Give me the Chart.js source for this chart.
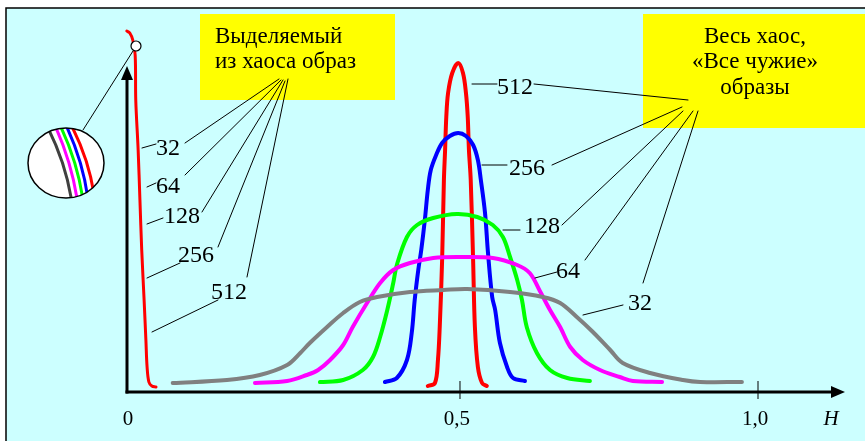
<!DOCTYPE html>
<html>
<head>
<meta charset="utf-8">
<script src="https://cdn.jsdelivr.net/npm/chart.js@4/dist/chart.umd.min.js"></script>
<style>
  html, body { margin: 0; padding: 0; background: #fff; }
  canvas { display: block; }
</style>
</head>
<body>
<canvas id="chaosChart" width="865" height="441"></canvas>
<script>
// Curve data: H along x, relative frequency along y (arbitrary units)
const selectedH = [-0.064, -0.059, -0.054, -0.049, -0.045, -0.044, -0.040, -0.037, -0.034, -0.030, -0.027, -0.025, -0.022, -0.017, -0.010];
const selectedV = [3.62, 3.61, 3.59, 3.52, 3.37, 2.92, 2.42, 1.92, 1.42, 0.92, 0.52, 0.25, 0.10, 0.06, 0.05];

const chaos32H = [0.018, 0.109, 0.164, 0.210, 0.232, 0.248, 0.277, 0.304, 0.332, 0.361, 0.416, 0.472, 0.512, 0.584, 0.639, 0.668, 0.696, 0.723, 0.752, 0.773, 0.819, 0.874, 0.903, 0.973];
const chaos32V = [0.09, 0.12, 0.17, 0.27, 0.39, 0.49, 0.65, 0.79, 0.90, 0.95, 1.00, 1.02, 1.03, 1.00, 0.95, 0.89, 0.75, 0.60, 0.42, 0.29, 0.19, 0.12, 0.10, 0.10];

const chaos64H = [0.156, 0.210, 0.243, 0.262, 0.282, 0.304, 0.320, 0.344, 0.366, 0.388, 0.416, 0.455, 0.500, 0.555, 0.596, 0.617, 0.634, 0.651, 0.668, 0.685, 0.706, 0.735, 0.768, 0.790, 0.839];
const chaos64V = [0.09, 0.11, 0.17, 0.22, 0.32, 0.47, 0.65, 0.89, 1.09, 1.22, 1.29, 1.34, 1.35, 1.34, 1.27, 1.19, 1.01, 0.82, 0.65, 0.45, 0.32, 0.22, 0.15, 0.11, 0.10];

const chaos128H = [0.265, 0.304, 0.337, 0.354, 0.366, 0.378, 0.388, 0.394, 0.411, 0.428, 0.455, 0.495, 0.529, 0.555, 0.572, 0.584, 0.596, 0.604, 0.612, 0.629, 0.651, 0.680, 0.718];
const chaos128V = [0.10, 0.12, 0.22, 0.35, 0.55, 0.82, 1.09, 1.27, 1.55, 1.67, 1.74, 1.78, 1.75, 1.67, 1.55, 1.35, 1.12, 0.92, 0.65, 0.39, 0.22, 0.14, 0.11];

const chaos256H = [0.374, 0.394, 0.411, 0.419, 0.424, 0.430, 0.435, 0.441, 0.446, 0.451, 0.460, 0.470, 0.483, 0.497, 0.510, 0.522, 0.530, 0.535, 0.542, 0.547, 0.554, 0.559, 0.567, 0.579, 0.589, 0.609];
const chaos256V = [0.10, 0.14, 0.32, 0.59, 0.92, 1.22, 1.42, 1.72, 2.02, 2.22, 2.37, 2.49, 2.56, 2.59, 2.56, 2.47, 2.32, 2.12, 1.79, 1.39, 0.95, 0.82, 0.49, 0.25, 0.14, 0.11];

const chaos512H = [0.446, 0.458, 0.463, 0.466, 0.470, 0.473, 0.475, 0.477, 0.480, 0.487, 0.497, 0.505, 0.510, 0.513, 0.515, 0.518, 0.522, 0.525, 0.530, 0.537, 0.545];
const chaos512V = [0.06, 0.09, 0.32, 0.65, 1.32, 2.12, 2.42, 2.75, 2.99, 3.19, 3.29, 3.19, 2.99, 2.75, 2.42, 2.12, 1.32, 0.65, 0.25, 0.09, 0.06];

// Axis: the drawing puts "0" at the axis corner, ticks at 0,5 and 1,0
const xAxisStart = -0.0587;
const xAxisEnd = 1.1426;
const yAxisMax = 3.62;
const tickValues = [0.5, 1.0];
const tickLabels = ['0,5', '1,0'];
const originLabel = '0';
const axisName = 'H';
const curveNames = ['32', '64', '128', '256', '512'];

const toPoints = (xs, ys) => xs.map((x, i) => ({ x: x, y: ys[i] }));

const SERIF = '"Liberation Serif", "DejaVu Serif", serif';

// Background, frame, yellow boxes and axes
const backdrop = {
  id: 'backdrop',
  beforeDraw(chart) {
    const ctx = chart.ctx;
    ctx.save();
    ctx.fillStyle = '#ffffff';
    ctx.fillRect(0, 0, chart.width, chart.height);
    ctx.fillStyle = '#ccffff';
    ctx.fillRect(6, 8, chart.width, chart.height);
    ctx.strokeStyle = '#000';
    ctx.lineWidth = 1.5;
    ctx.strokeRect(6, 8, chart.width + 10, chart.height + 10);

    ctx.fillStyle = '#ffff00';
    ctx.fillRect(200, 14, 195, 86);
    ctx.fillRect(643, 14, 230, 114);
    ctx.restore();
  },
  beforeDatasetsDraw(chart) {
    const ctx = chart.ctx;
    const xs = chart.scales.x, ys = chart.scales.y;
    const x0 = xs.getPixelForValue(xAxisStart);
    const y0 = ys.getPixelForValue(0);
    ctx.save();
    ctx.strokeStyle = '#000';
    ctx.fillStyle = '#000';
    ctx.lineWidth = 3;
    // y axis with arrow
    ctx.beginPath();
    ctx.moveTo(x0, y0 + 1.5);
    ctx.lineTo(x0, 78);
    ctx.stroke();
    ctx.beginPath();
    ctx.moveTo(x0, 66);
    ctx.lineTo(x0 - 6, 80);
    ctx.lineTo(x0 + 6, 80);
    ctx.closePath();
    ctx.fill();
    // x axis with arrow
    const xEnd = xs.getPixelForValue(xAxisEnd);
    ctx.beginPath();
    ctx.moveTo(x0 - 1.5, y0);
    ctx.lineTo(xEnd - 10, y0);
    ctx.stroke();
    ctx.beginPath();
    ctx.moveTo(xEnd + 2, y0);
    ctx.lineTo(xEnd - 12, y0 - 6);
    ctx.lineTo(xEnd - 12, y0 + 6);
    ctx.closePath();
    ctx.fill();
    // ticks and labels
    ctx.lineWidth = 1;
    ctx.font = '21px ' + SERIF;
    ctx.textAlign = 'center';
    ctx.textBaseline = 'alphabetic';
    tickValues.forEach((v, i) => {
      const px = xs.getPixelForValue(v);
      ctx.beginPath();
      ctx.moveTo(px, y0 - 11);
      ctx.lineTo(px, y0 + 7);
      ctx.stroke();
      ctx.fillText(tickLabels[i], px - 3, 425);
    });
    ctx.fillText(originLabel, x0 + 1, 425);
    ctx.font = 'italic 21px ' + SERIF;
    ctx.fillText(axisName, xEnd - 12, 425);
    ctx.restore();
  }
};

// Labels, leader lines, magnifier and box texts
const annotations = {
  id: 'annotations',
  afterDatasetsDraw(chart) {
    const ctx = chart.ctx;
    ctx.save();
    ctx.strokeStyle = '#000';
    ctx.fillStyle = '#000';
    ctx.lineWidth = 1;
    ctx.lineCap = 'round';

    const line = (a, b, c, d) => { ctx.beginPath(); ctx.moveTo(a, b); ctx.lineTo(c, d); ctx.stroke(); };

    // left group: selected image
    [[185, 143, 279, 79], [185, 175, 281, 80], [202, 212, 283, 80], [218, 247, 285, 81], [247, 277, 288, 79]]
      .forEach(l => line(...l));
    [[142, 148, 156, 144], [147, 187, 156, 183], [147, 224, 163, 218], [147, 278, 180, 263], [152, 332, 218, 300]]
      .forEach(l => line(...l));
    // right group: whole chaos
    [[534, 84, 688, 100], [552, 165, 682, 107], [562, 225, 683, 111], [585, 260, 693, 111], [643, 283, 698, 111]]
      .forEach(l => line(...l));
    [[472, 84, 497, 84], [482, 165, 507, 165], [503, 230, 520, 230], [535, 278, 557, 272], [583, 315, 623, 305]]
      .forEach(l => line(...l));

    ctx.font = '24px ' + SERIF;
    ctx.textAlign = 'center';
    ctx.textBaseline = 'alphabetic';
    const leftPos = [[168, 155], [168, 193], [182, 223], [196, 262], [229, 299]];
    const rightPos = [[640, 310], [568, 278], [542, 233], [527, 175], [515, 94]];
    curveNames.forEach((n, i) => {
      ctx.fillText(n, leftPos[i][0], leftPos[i][1]);
      ctx.fillText(n, rightPos[i][0], rightPos[i][1]);
    });

    // magnifier
    line(133, 51, 83, 130);
    ctx.beginPath();
    ctx.ellipse(66, 163, 38, 35, 0, 0, Math.PI * 2);
    ctx.fillStyle = '#fff';
    ctx.fill();
    ctx.save();
    ctx.clip();
    const strands = [['#404040', 49, 132, 71, 197], ['#ff00ff', 55, 127, 77, 199], ['#00ff00', 60, 127, 82, 194],
                     ['#0000ff', 66, 127, 87, 193], ['#ff0000', 71, 127, 93, 188]];
    ctx.lineWidth = 3;
    strands.forEach(s => {
      ctx.strokeStyle = s[0];
      ctx.beginPath();
      ctx.moveTo(s[1] - 3, s[2] - 8);
      ctx.quadraticCurveTo((s[1] + s[3]) / 2 + 6, (s[2] + s[4]) / 2 - 2, s[3] + 1, s[4] + 6);
      ctx.stroke();
    });
    ctx.restore();
    ctx.beginPath();
    ctx.ellipse(66, 163, 38, 35, 0, 0, Math.PI * 2);
    ctx.strokeStyle = '#000';
    ctx.lineWidth = 1.5;
    ctx.stroke();

    ctx.beginPath();
    ctx.arc(136, 46, 5, 0, Math.PI * 2);
    ctx.fillStyle = '#fff';
    ctx.fill();
    ctx.lineWidth = 1.2;
    ctx.stroke();

    // box texts
    ctx.fillStyle = '#000';
    ctx.font = '23px ' + SERIF;
    ctx.textAlign = 'left';
    ctx.fillText('Выделяемый', 215, 43);
    ctx.fillText('из хаоса образ', 215, 68);
    ctx.textAlign = 'center';
    ctx.fillText('Весь хаос,', 755, 43);
    ctx.fillText('«Все чужие»', 755, 68);
    ctx.fillText('образы', 755, 94);
    ctx.restore();
  }
};

const curveStyle = {
  fill: false,
  pointRadius: 0,
  borderWidth: 4,
  borderCapStyle: 'round',
  borderJoinStyle: 'round',
  tension: 0.35,
  clip: false
};

new Chart(document.getElementById('chaosChart'), {
  type: 'line',
  data: {
    datasets: [
      { ...curveStyle, label: 'selected', data: toPoints(selectedH, selectedV), borderColor: '#ff0000', borderWidth: 3 },
      { ...curveStyle, label: '32', data: toPoints(chaos32H, chaos32V), borderColor: '#808080' },
      { ...curveStyle, label: '64', data: toPoints(chaos64H, chaos64V), borderColor: '#ff00ff' },
      { ...curveStyle, label: '128', data: toPoints(chaos128H, chaos128V), borderColor: '#00ff00' },
      { ...curveStyle, label: '256', data: toPoints(chaos256H, chaos256V), borderColor: '#0000ff' },
      { ...curveStyle, label: '512', data: toPoints(chaos512H, chaos512V), borderColor: '#ff0000' }
    ]
  },
  options: {
    responsive: false,
    animation: false,
    layout: { padding: { left: 127, right: 22, top: 30, bottom: 49 } },
    scales: {
      x: { type: 'linear', min: xAxisStart, max: xAxisEnd, display: false },
      y: { type: 'linear', min: 0, max: yAxisMax, display: false }
    },
    plugins: {
      legend: { display: false },
      tooltip: { enabled: false }
    }
  },
  plugins: [backdrop, annotations]
});
</script>
</body>
</html>
